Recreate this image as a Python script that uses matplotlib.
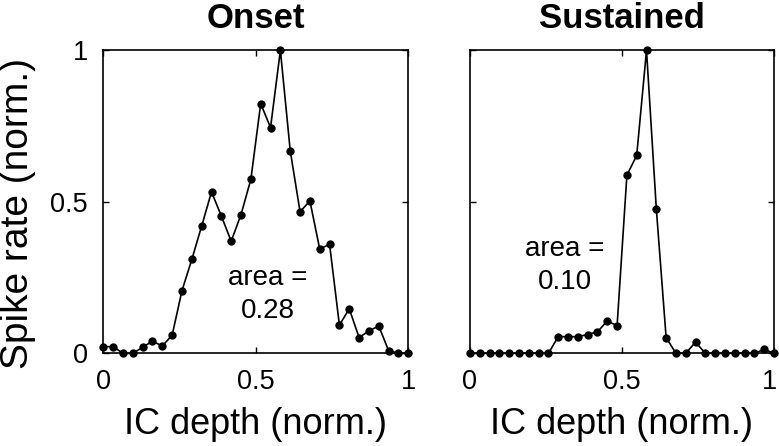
import numpy as np
import matplotlib
matplotlib.use("Agg")
import matplotlib.pyplot as plt
import matplotlib.transforms as mtransforms

plt.rcParams['font.family'] = ['Liberation Sans', 'DejaVu Sans']

depth = np.linspace(0, 1, 32)
onset = [0.022, 0.022, 0.0, 0.0, 0.02, 0.04, 0.024, 0.06, 0.207, 0.31, 0.42, 0.533,
         0.453, 0.37, 0.458, 0.574, 0.824, 0.745, 1.0, 0.669, 0.467, 0.503, 0.344, 0.36,
         0.093, 0.147, 0.052, 0.074, 0.09, 0.009, 0.0, 0.0]
sustained = [0.0, 0.0, 0.0, 0.0, 0.0, 0.0, 0.0, 0.0, 0.0, 0.055, 0.055, 0.055,
             0.062, 0.071, 0.107, 0.091, 0.588, 0.653, 1.0, 0.477, 0.052, 0.0, 0.0, 0.037,
             0.0, 0.0, 0.0, 0.0, 0.0, 0.0, 0.013, 0.0]
titles = ["Onset", "Sustained"]
areas = ["area =\n0.28", "area =\n0.10"]
area_pos = [(0.54, 0.195), (0.3125, 0.29)]
xticks = [0, 0.5, 1]
xticklabels = ["0", "0.5", "1"]
yticks = [0, 0.5, 1]
yticklabels = ["0", "0.5", "1"]

fig = plt.figure(figsize=(7.79, 4.46), dpi=100)
ax1 = fig.add_axes([0.1326, 0.2078, 0.3915, 0.6794])
ax2 = fig.add_axes([0.6033, 0.2078, 0.3903, 0.6794])

for i, (ax, data) in enumerate(zip([ax1, ax2], [onset, sustained])):
    ax.plot(depth, data, color='black', lw=1.2, marker='o', ms=5, clip_on=False, zorder=3)
    ax.set_xlim(0, 1)
    ax.set_ylim(0, 1)
    ax.set_xticks(xticks)
    ax.set_xticklabels(xticklabels)
    ax.set_yticks(yticks)
    if i == 0:
        ax.set_yticklabels(yticklabels)
        ax.set_ylabel("Spike rate (norm.)", fontsize=28)
        ax.yaxis.set_label_coords(-0.222, 0.46)
    else:
        ax.set_yticklabels([])
    ax.tick_params(direction='in', top=True, right=True, labelsize=19.5, length=4,
                   width=1, pad=11)
    ax.set_xlabel("IC depth (norm.)", fontsize=26, labelpad=9)
    ax.set_title(titles[i], fontsize=25, fontweight='bold', pad=16)
    for s in ax.spines.values():
        s.set_linewidth(1.2)
    ax.text(area_pos[i][0], area_pos[i][1], areas[i], ha='center', va='center',
            fontsize=20, linespacing=1.35)

# nudge the last x tick label of the right panel so it stays inside the figure
last = ax2.get_xticklabels()[-1]
last.set_transform(last.get_transform() +
                   mtransforms.ScaledTranslation(-3 / 72, 0, fig.dpi_scale_trans))

fig.savefig("out.png", dpi=100)
